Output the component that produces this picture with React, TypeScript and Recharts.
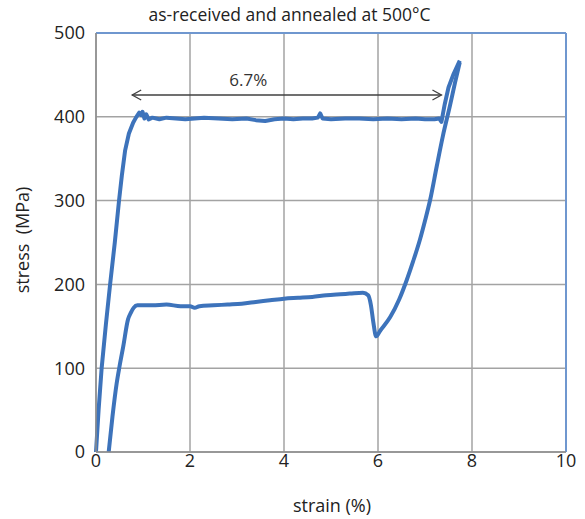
import { CartesianGrid, Line, LineChart, ReferenceDot, ReferenceLine, XAxis, YAxis } from 'recharts';

// as-received curve (upper plateau ~400 MPa)
const receivedStrain = [
  0, 0.055, 0.12, 0.21, 0.3, 0.4, 0.49, 0.55, 0.62, 0.7, 0.79, 0.85, 0.92, 0.96, 0.99, 1.03, 1.07,
  1.12, 1.2, 1.35, 1.5, 1.7, 1.9, 2.1, 2.3, 2.6, 2.9, 3.2, 3.4, 3.6, 3.8, 4.0, 4.2, 4.4, 4.6,
  4.72, 4.77, 4.82, 5.0, 5.3, 5.6, 5.9, 6.2, 6.5, 6.8, 7.0, 7.2, 7.3, 7.35, 7.42, 7.5, 7.6, 7.74,
];
const receivedStress = [
  0, 50, 100, 152, 200, 250, 300, 330, 360, 380, 393, 399, 405, 402, 406, 398, 403,
  397, 399, 397, 399, 398, 397, 398, 399, 398, 397, 398, 396, 395, 397, 398, 397, 398, 398,
  399, 404, 398, 397, 398, 398, 397, 398, 397, 398, 397, 397, 398, 394, 415, 435, 450, 467,
];

// annealed at 500°C (lower plateau ~175 MPa)
const annealedStrain = [
  0.27, 0.35, 0.44, 0.5, 0.58, 0.68, 0.74, 0.8, 0.88, 1.0, 1.2, 1.5, 1.8, 2.0, 2.1, 2.2, 2.5,
  2.8, 3.1, 3.4, 3.7, 4.0, 4.3, 4.6, 4.9, 5.12, 5.4, 5.68, 5.79, 5.85, 5.9, 5.96, 6.05, 6.26,
  6.45, 6.61, 6.75, 6.89, 7.0, 7.11, 7.25, 7.38, 7.53, 7.64, 7.74,
];
const annealedStress = [
  0, 42, 82, 102, 126, 158, 166, 172, 175, 175, 175, 176, 174, 174, 172, 174, 175,
  176, 177, 179, 181, 183, 184, 185, 187, 188, 189, 190, 187, 175, 155, 138, 145, 161,
  182, 205, 228, 253, 276, 301, 341, 377, 413, 441, 465,
];

const xTicks = [0, 2, 4, 6, 8, 10];
const yTicks = [0, 100, 200, 300, 400, 500];

// elongation marker
const arrowStart = { x: 0.77, y: 426 };
const arrowEnd = { x: 7.35, y: 426 };
const arrowText = '6.7%';
const arrowTextAt = { x: 3.24, y: 444 };

const received = receivedStrain.map((x, i) => ({ x, y: receivedStress[i] }));
const annealed = annealedStrain.map((x, i) => ({ x, y: annealedStress[i] }));

const FONT = '"Open Sans", "Noto Sans", sans-serif';
const LINE_BLUE = '#3d73bb';
const BORDER_BLUE = '#6f97cf';

function DoubleArrow(props: any) {
  const { x1, y1, x2, y2 } = props;
  const head = 9;
  const spread = 5;
  return (
    <g stroke="#404040" strokeWidth={1.3} fill="none">
      <line x1={x1} y1={y1} x2={x2} y2={y2} />
      <polyline points={`${x1 + head},${y1 - spread} ${x1},${y1} ${x1 + head},${y1 + spread}`} />
      <polyline points={`${x2 - head},${y2 - spread} ${x2},${y2} ${x2 - head},${y2 + spread}`} />
    </g>
  );
}

export default function App() {
  return (
    <div
      style={{
        position: 'absolute',
        left: 0,
        top: 0,
        width: 585,
        height: 519,
        background: '#fff',
        fontFamily: FONT,
      }}
    >
      <div
        style={{
          position: 'absolute',
          left: -3,
          width: 585,
          top: 2,
          textAlign: 'center',
          fontSize: 17.5,
          color: '#222',
        }}
      >
        as-received and annealed at 500°C
      </div>
      <div
        style={{
          position: 'absolute',
          left: 22,
          top: 240,
          transform: 'translate(-50%, -50%) rotate(-90deg)',
          whiteSpace: 'nowrap',
          fontSize: 18,
          color: '#222',
        }}
      >
        stress&nbsp; (MPa)
      </div>
      <div
        style={{
          position: 'absolute',
          left: 332,
          top: 505,
          transform: 'translate(-50%, -50%)',
          whiteSpace: 'nowrap',
          fontSize: 18,
          color: '#222',
        }}
      >
        strain (%)
      </div>

      <LineChart width={585} height={519} margin={{ top: 33, right: 19, bottom: 0, left: 0 }}>
        <CartesianGrid stroke="#a3a3a3" strokeWidth={1.5} />
        <XAxis
          dataKey="x"
          type="number"
          domain={[0, 10]}
          ticks={xTicks}
          height={67}
          tickLine={false}
          tickSize={0}
          tickMargin={2}
          axisLine={{ stroke: '#8c8c8c', strokeWidth: 1.5 }}
          tick={{ fill: '#222', fontSize: 18, fontFamily: FONT }}
        />
        <YAxis
          dataKey="y"
          type="number"
          domain={[0, 500]}
          ticks={yTicks}
          width={96}
          tickLine={false}
          tickSize={8}
          tickMargin={3}
          axisLine={{ stroke: '#8c8c8c', strokeWidth: 1.5 }}
          tick={{ fill: '#222', fontSize: 18, fontFamily: FONT }}
        />
        <ReferenceLine y={500} stroke={BORDER_BLUE} strokeWidth={2} />
        <ReferenceLine x={10} stroke={BORDER_BLUE} strokeWidth={2} />
        <ReferenceLine segment={[arrowStart, arrowEnd]} shape={DoubleArrow} />
        <ReferenceDot
          x={arrowTextAt.x}
          y={arrowTextAt.y}
          r={0}
          stroke="none"
          fill="none"
          label={{ value: arrowText, position: 'center', fill: '#333', fontSize: 17, fontFamily: FONT }}
        />
        <Line
          data={received}
          dataKey="y"
          type="linear"
          stroke={LINE_BLUE}
          strokeWidth={4}
          strokeLinejoin="round"
          dot={false}
          isAnimationActive={false}
        />
        <Line
          data={annealed}
          dataKey="y"
          type="monotone"
          stroke={LINE_BLUE}
          strokeWidth={4}
          strokeLinejoin="round"
          dot={false}
          isAnimationActive={false}
        />
      </LineChart>
    </div>
  );
}
